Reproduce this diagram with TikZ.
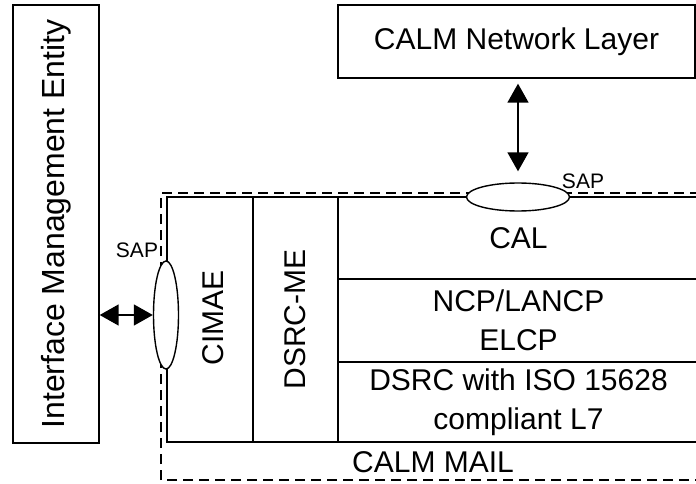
\documentclass[tikz,border=0pt]{standalone}
\usepackage{fontspec}
\setmainfont{Liberation Sans}
\usetikzlibrary{arrows.meta, shapes.geometric}
\begin{document}
\begin{tikzpicture}[
  x=1pt, y=1pt,
  >={Triangle[length=19pt,width=21pt]},
  font=\fontsize{30}{39}\selectfont,
  box/.style={draw, line width=1.4pt, inner sep=0pt, align=center},
  sap/.style={draw, ellipse, line width=1.4pt, fill=white, inner sep=0pt},
  link/.style={<->, line width=1.6pt},
  frame/.style={line width=2pt, dash pattern=on 10pt off 6pt},
  lbl/.style={font=\fontsize{21}{22}\selectfont, inner sep=0pt}
]
\useasboundingbox (0,0) rectangle (696,483);

%% Left: management entity
\node[box, minimum width=86pt, minimum height=438pt] (ime) at (56,259) {};
\node[rotate=90, font=\fontsize{32}{36}\selectfont] (imetxt) at (ime.center) {Interface Management Entity};

%% Top: network layer
\node[box, minimum width=357pt, minimum height=73pt] (net) at (516.5,441.5) {CALM Network Layer};

%% CALM MAIL frame (runs off the right edge)
\draw[frame] (161,3) rectangle (730,290);
\node (mailtxt) at (433,21) {CALM MAIL};

%% Columns
\node[box, minimum width=86pt, minimum height=245pt] (cimae)  at (210,163.5) {};
\node[rotate=90] (cimaetxt) at (213,165) {CIMAE};
\node[box, minimum width=85pt, minimum height=245pt] (dsrcme) at (295.5,163.5) {};
\node[rotate=90] (dsrcmetxt) at (dsrcme.center) {DSRC-ME};

%% Rows on the right
\node[box, minimum width=361pt, minimum height=82pt] (cal)  at (518.5,245)   {CAL};
\node[box, minimum width=361pt, minimum height=83pt] (ncp)  at (518.5,162.5) {NCP/LANCP\\ELCP};
\node[box, minimum width=361pt, minimum height=80pt] (dsrc) at (518.5,81)    {DSRC with ISO 15628\\compliant L7};

%% Service access points
\node[sap, minimum width=103pt, minimum height=28pt] (tsap) at (518,286) {};
\node[sap, minimum width=25pt, minimum height=108pt] (lsap) at (166,168) {};
\node[lbl] (tsaptxt) at (583,302) {SAP};
\node[lbl] (lsaptxt) at (137,233) {SAP};

%% Links
\draw[link, shorten <=5pt, shorten >=11pt] (net.south -| tsap.north) -- (tsap.north);
\draw[link] (ime.east |- lsap.west) -- (lsap.west);

\end{tikzpicture}
\end{document}
